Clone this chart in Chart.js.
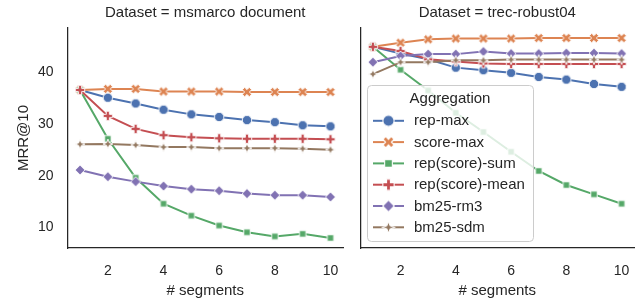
<!DOCTYPE html>
<html>
<head>
<meta charset="utf-8">
<script src="https://cdn.jsdelivr.net/npm/chart.js@4.4.1/dist/chart.umd.min.js"></script>
<style>
  html, body { margin: 0; padding: 0; background: #ffffff; }
  #wrap { position: relative; width: 641px; height: 301px; overflow: hidden; }
  #c1 { position: absolute; left: 0; top: 0; }
  #c2 { position: absolute; left: 350px; top: 0; }
</style>
</head>
<body>
<div id="wrap">
  <canvas id="c1" width="350" height="301"></canvas>
  <canvas id="c2" width="291" height="301"></canvas>
</div>
<script>
// ---------------- data ----------------
const segments = [1, 2, 3, 4, 5, 6, 7, 8, 9, 10];
const xTicks = [2, 4, 6, 8, 10];
const yTicks = [10, 20, 30, 40];
const seriesNames = ["rep-max", "score-max", "rep(score)-sum", "rep(score)-mean", "bm25-rm3", "bm25-sdm"];
const panelTitles = ["Dataset = msmarco document", "Dataset = trec-robust04"];

// msmarco document
const msmarcoRepMax    = [36.5, 35.0, 33.9, 32.7, 31.8, 31.3, 30.7, 30.3, 29.7, 29.5];
const msmarcoScoreMax  = [36.5, 36.7, 36.7, 36.2, 36.2, 36.2, 36.1, 36.1, 36.1, 36.1];
const msmarcoRepSum    = [36.5, 27.1, 19.6, 14.6, 12.3, 10.4, 9.1, 8.3, 8.8, 8.0];
const msmarcoRepMean   = [36.5, 31.5, 29.0, 27.8, 27.4, 27.2, 27.1, 27.1, 27.1, 27.0];
const msmarcoRm3       = [21.1, 19.8, 18.85, 18.0, 17.4, 17.1, 16.55, 16.25, 16.25, 15.9];
const msmarcoSdm       = [26.05, 26.1, 25.9, 25.5, 25.5, 25.3, 25.3, 25.3, 25.2, 25.0];

// trec-robust04
const robustRepMax     = [44.8, 43.5, 42.4, 40.8, 40.3, 39.8, 39.0, 38.5, 37.65, 37.1];
const robustScoreMax   = [44.8, 45.6, 46.25, 46.4, 46.4, 46.4, 46.5, 46.5, 46.5, 46.5];
const robustRepSum     = [44.8, 40.4, 36.4, 32.1, 28.4, 24.6, 20.9, 18.2, 16.4, 14.6];
const robustRepMean    = [44.8, 44.0, 42.4, 42.0, 41.6, 41.5, 41.5, 41.5, 41.5, 41.5];
const robustRm3        = [41.85, 43.05, 43.4, 43.4, 43.9, 43.5, 43.5, 43.6, 43.6, 43.5];
const robustSdm        = [39.55, 41.85, 41.85, 42.2, 42.2, 42.35, 42.35, 42.35, 42.35, 42.35];

const msmarcoSeries = [msmarcoRepMax, msmarcoScoreMax, msmarcoRepSum, msmarcoRepMean, msmarcoRm3, msmarcoSdm];
const robustSeries  = [robustRepMax, robustScoreMax, robustRepSum, robustRepMean, robustRm3, robustSdm];

// ---------------- styles ----------------
const colors = ['#4C72B0', '#DD8452', '#55A868', '#C44E52', '#8172B3', '#937860'];
const shapes = ['circle', 'x', 'square', 'plus', 'diamond', 'star'];
const FONT = '"Liberation Sans", Arial, Helvetica, sans-serif';
const TEXT = '#262626';
const Y_MIN = 6.07, Y_MAX = 48.43, X_MIN = 0.55, X_MAX = 10.45;

function makeMarker(shape, color, k) {
  const S = Math.ceil(14 * k);
  const c = document.createElement('canvas');
  c.width = S; c.height = S;
  const g = c.getContext('2d');
  g.translate(S / 2, S / 2);
  g.scale(k, k);
  g.beginPath();
  if (shape === 'circle') {
    g.arc(0, 0, 4.7, 0, Math.PI * 2);
  } else if (shape === 'square') {
    g.rect(-3.2, -3.2, 6.4, 6.4);
  } else if (shape === 'diamond') {
    g.moveTo(0, -4.9); g.lineTo(4.9, 0); g.lineTo(0, 4.9); g.lineTo(-4.9, 0); g.closePath();
  } else if (shape === 'star') {
    const R = 5.0, r = 1.9;
    for (let i = 0; i < 8; i++) {
      const a = -Math.PI / 2 + i * Math.PI / 4;
      const rr = i % 2 === 0 ? R : r;
      const px = rr * Math.cos(a), py = rr * Math.sin(a);
      if (i === 0) g.moveTo(px, py); else g.lineTo(px, py);
    }
    g.closePath();
  } else if (shape === 'plus' || shape === 'x') {
    const a = 4.7, w = 1.6;
    const pts = [[-w, -a], [w, -a], [w, -w], [a, -w], [a, w], [w, w], [w, a], [-w, a], [-w, w], [-a, w], [-a, -w], [-w, -w]];
    const rot = shape === 'x' ? Math.PI / 4 : 0;
    const m = shape === 'x' ? 1.05 : 1;
    pts.forEach((p, i) => {
      const px = m * (p[0] * Math.cos(rot) - p[1] * Math.sin(rot));
      const py = m * (p[0] * Math.sin(rot) + p[1] * Math.cos(rot));
      if (i === 0) g.moveTo(px, py); else g.lineTo(px, py);
    });
    g.closePath();
  }
  g.fillStyle = color;
  g.fill();
  g.lineWidth = 0.9;
  g.strokeStyle = '#ffffff';
  g.stroke();
  return c;
}
const markers = colors.map((col, i) => makeMarker(shapes[i], col, 1));
const legendMarkers = colors.map((col, i) => makeMarker(shapes[i], col, 1.2));

function buildDatasets(series) {
  return series.map((vals, i) => ({
    label: seriesNames[i],
    data: segments.map((x, j) => ({ x: x, y: vals[j] })),
    borderColor: colors[i],
    backgroundColor: colors[i],
    borderWidth: 2,
    tension: 0,
    pointStyle: markers[i],
    pointRadius: 5,
    pointHoverRadius: 5,
    order: seriesNames.length - i,
    clip: false
  }));
}

// panel title centred above the chart area
const panelTitlePlugin = {
  id: 'panelTitle',
  afterDraw(chart, args, opts) {
    const ctx = chart.ctx;
    const a = chart.chartArea;
    ctx.save();
    ctx.font = '15px ' + FONT;
    ctx.fillStyle = TEXT;
    ctx.textAlign = 'center';
    ctx.textBaseline = 'middle';
    ctx.fillText(opts.text, (a.left + a.right) / 2, 12.5);
    ctx.restore();
  }
};

// legend drawn inside the right panel
const innerLegendPlugin = {
  id: 'innerLegend',
  afterDatasetsDraw(chart, args, opts) {
    if (!opts.display) return;
    const ctx = chart.ctx;
    const bx = 17.5, by = 85.5, bw = 166, bh = 156, rad = 4;
    ctx.save();
    ctx.beginPath();
    ctx.moveTo(bx + rad, by);
    ctx.lineTo(bx + bw - rad, by);
    ctx.arcTo(bx + bw, by, bx + bw, by + rad, rad);
    ctx.lineTo(bx + bw, by + bh - rad);
    ctx.arcTo(bx + bw, by + bh, bx + bw - rad, by + bh, rad);
    ctx.lineTo(bx + rad, by + bh);
    ctx.arcTo(bx, by + bh, bx, by + bh - rad, rad);
    ctx.lineTo(bx, by + rad);
    ctx.arcTo(bx, by, bx + rad, by, rad);
    ctx.closePath();
    ctx.fillStyle = 'rgba(255,255,255,0.8)';
    ctx.fill();
    ctx.lineWidth = 1;
    ctx.strokeStyle = '#cccccc';
    ctx.stroke();

    ctx.fillStyle = TEXT;
    ctx.font = '15px ' + FONT;
    ctx.textAlign = 'center';
    ctx.textBaseline = 'middle';
    ctx.fillText('Aggregation', 100, 99);

    ctx.textAlign = 'left';
    chart.data.datasets.forEach((ds, i) => {
      const y = 120.8 + i * 21.3;
      ctx.beginPath();
      ctx.moveTo(23, y);
      ctx.lineTo(54, y);
      ctx.lineWidth = 2;
      ctx.strokeStyle = colors[i];
      ctx.stroke();
      const m = legendMarkers[i];
      ctx.drawImage(m, 38.5 - m.width / 2, y - m.height / 2);
      ctx.fillStyle = TEXT;
      ctx.fillText(ds.label, 64, y + 0.5);
    });
    ctx.restore();
  }
};

function makeConfig(series, title, isLeft) {
  return {
    type: 'line',
    data: { datasets: buildDatasets(series) },
    plugins: [panelTitlePlugin, innerLegendPlugin],
    options: {
      responsive: false,
      animation: false,
      devicePixelRatio: 1,
      layout: { padding: { left: 0, right: isLeft ? 5 : 3, top: 28, bottom: 0 } },
      plugins: {
        legend: { display: false },
        tooltip: { enabled: false },
        title: { display: false },
        panelTitle: { text: title },
        innerLegend: { display: !isLeft }
      },
      scales: {
        x: {
          type: 'linear',
          min: X_MIN,
          max: X_MAX,
          afterBuildTicks: s => { s.ticks = xTicks.map(v => ({ value: v })); },
          afterFit: s => { s.height = 53; s.paddingLeft = 0; s.paddingRight = 0; },
          grid: { display: false, drawTicks: false },
          border: { display: true, color: TEXT, width: 1.25 },
          ticks: { color: TEXT, font: { family: FONT, size: 14 }, padding: 15, maxRotation: 0 },
          title: { display: true, text: '# segments', color: TEXT, font: { family: FONT, size: 15 }, padding: { top: 0, bottom: 1 } }
        },
        y: {
          type: 'linear',
          min: Y_MIN,
          max: Y_MAX,
          afterBuildTicks: s => { s.ticks = yTicks.map(v => ({ value: v })); },
          afterFit: s => { s.width = isLeft ? 67.5 : 10.5; s.paddingTop = 0; s.paddingBottom = 0; },
          grid: { display: false, drawTicks: false },
          border: { display: true, color: TEXT, width: 1.25 },
          ticks: { display: isLeft, color: TEXT, font: { family: FONT, size: 14 }, padding: 14 },
          title: { display: isLeft, text: 'MRR@10', color: TEXT, font: { family: FONT, size: 15 }, padding: { top: 15, bottom: 0 } }
        }
      }
    }
  };
}

new Chart(document.getElementById('c1'), makeConfig(msmarcoSeries, panelTitles[0], true));
new Chart(document.getElementById('c2'), makeConfig(robustSeries, panelTitles[1], false));
</script>
</body>
</html>
